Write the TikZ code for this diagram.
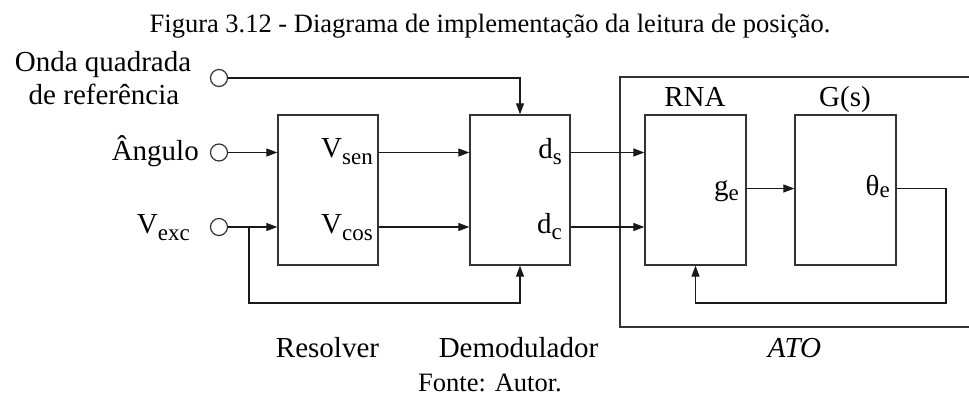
\documentclass[tikz,border=0pt]{standalone}
\usepackage{fontspec}
\setmainfont{Liberation Serif}
\usetikzlibrary{arrows.meta,calc}
\newcommand\lsub[2][7pt]{\raisebox{-#1}{\fontsize{23}{23}\selectfont #2}}
\begin{document}
\begin{tikzpicture}[x=1pt,y=-1pt,
  blk/.style={draw=black!80,line width=1.3pt,minimum width=100pt,minimum height=150pt,inner sep=0pt},
  port/.style={circle,draw=black!80,line width=1.2pt,minimum size=17pt,inner sep=0pt},
  arr/.style={draw=black!90,line width=1.2pt,-{Triangle[length=11pt,width=8pt]}},
  frame/.style={draw=black!80,line width=1.3pt},
  lbl/.style={inner sep=0pt,font=\fontsize{29}{34}\selectfont},
  captxt/.style={inner sep=0pt,font=\fontsize{26.5}{32}\selectfont}]
\useasboundingbox (0,0) rectangle (969,397);

% blocks
\node[blk] (res) at (328,190) {};
\node[blk] (dem) at (520,190) {};
\node[blk,minimum width=101pt] (rna) at (695.5,190) {};
\node[blk,minimum width=101pt] (gs) at (845.5,190) {};

% ATO frame (open to the right)
\draw[frame] (969,77) -| (620,327) -- (969,327);

% ports
\node[port] (c1) at (219,78) {};
\node[port] (c2) at (219,152.5) {};
\node[port] (c3) at (219,227) {};

% coordinates
\coordinate (br) at (249,227);
\coordinate (lowA) at (249,303);
\coordinate (gy) at (0,188.5);
\coordinate (fb) at (946,303);

% connectors
\draw[arr] (c1.east) -| (dem.north);
\draw[arr] (c2.east) -- (c2.east -| res.west);
\draw[arr] (c3.east) -- (c3.east -| res.west);
\draw[arr] (br) -- (lowA) -| (dem.south);
\draw[arr] (res.east |- c2) -- (dem.west |- c2);
\draw[arr] (res.east |- c3) -- (dem.west |- c3);
\draw[arr] (dem.east |- c2) -- (rna.west |- c2);
\draw[arr] (dem.east |- c3) -- (rna.west |- c3);
\draw[arr] (rna.east |- gy) -- (gs.west |- gy);
\draw[arr] (gs.east |- gy) -| (fb) -| (rna.south);

% labels
\node[lbl,anchor=base] (o1) at (103,71) {Onda quadrada};
\node[lbl,anchor=base] (o2) at (104,104) {de referência};
\node[lbl,anchor=base east] (ang) at (199,160) {Ângulo};
\node[lbl,anchor=base east] (vexc) at (190,233) {V\lsub{exc}};
\node[lbl,anchor=base east] (vsen) at (373,157) {V\lsub{sen}};
\node[lbl,anchor=base east] (vcos) at (373,233) {V\lsub{cos}};
\node[lbl,anchor=base east] (ds) at (562,158) {d\lsub[6pt]{s}};
\node[lbl,anchor=base east] (dc) at (562,233) {d\lsub[6pt]{c}};
\node[lbl,anchor=base east] (ge) at (739,195) {g\lsub[5pt]{e}};
\node[lbl,anchor=base east] (te) at (890,195) {θ\lsub[2pt]{e}};
\node[lbl,anchor=base] (rnal) at (695,106) {RNA};
\node[lbl,anchor=base] (gsl) at (845,106) {G(s)};
\node[lbl,anchor=base] (resl) at (327.5,357) {Resolver};
\node[lbl,anchor=base] (deml) at (518.5,357) {Demodulador};
\node[lbl,anchor=base,font=\fontsize{29}{34}\selectfont\itshape] (atol) at (794.5,357) {ATO};
\node[captxt,anchor=base] (title) at (490,32) {Figura 3.12 - Diagrama de implementação da leitura de posição.};
\node[captxt,anchor=base] (fonte) at (490,391) {Fonte: Autor.};
\end{tikzpicture}
\end{document}
